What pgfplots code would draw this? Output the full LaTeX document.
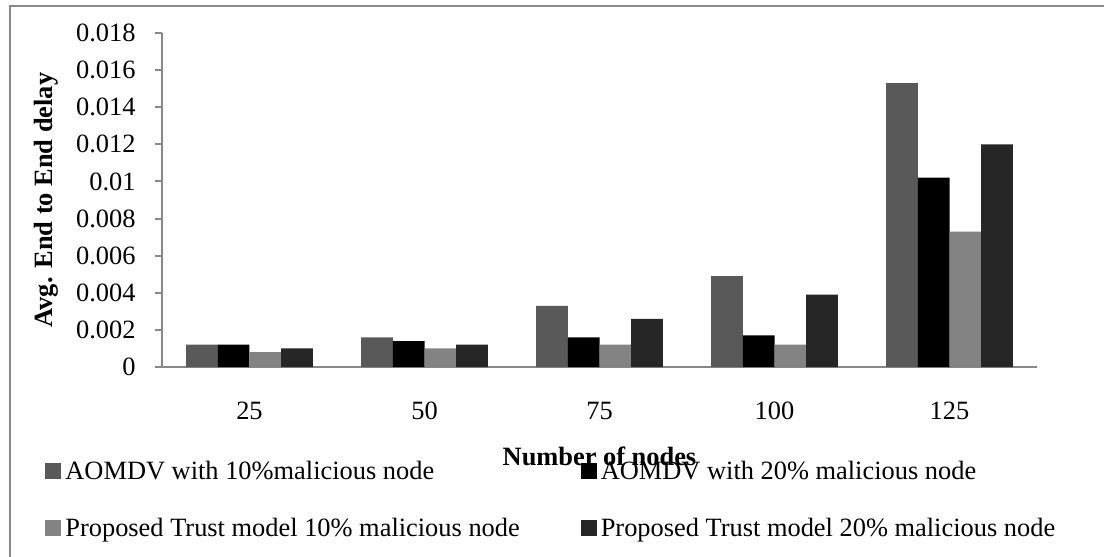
\documentclass[border=0pt]{standalone}
\usepackage{fontspec}
\setmainfont{Liberation Serif}
\usepackage{pgfplots}
\pgfplotsset{compat=1.18}
\definecolor{sA}{HTML}{595959}
\definecolor{sB}{HTML}{000000}
\definecolor{sC}{HTML}{838383}
\definecolor{sD}{HTML}{262626}
\definecolor{axgray}{HTML}{888888}
\newcommand{\cf}{\fontsize{13.2}{15.8}\selectfont}
\begin{document}
\begin{tikzpicture}[font=\cf]
\useasboundingbox (-81pt,-95pt) rectangle (471pt,183.5pt);
\clip (-81pt,-95pt) rectangle (471pt,183.5pt);
\draw[axgray, line width=1pt] (-76pt,-130pt) rectangle (520pt,180.5pt);
\begin{axis}[
  at={(0pt,0pt)}, anchor=south west,
  scale only axis, width=437.5pt, height=167pt,
  ybar=0pt, bar width=0.181,
  xmin=-0.5, xmax=4.5, ymin=0, ymax=0.018,
  axis x line*=bottom, axis y line*=left,
  axis line style={axgray, line width=1pt},
  xtick={0,1,2,3,4}, xticklabels={25,50,75,100,125},
  xtick style={draw=none},
  ytick={0,0.002,0.004,0.006,0.008,0.01,0.012,0.014,0.016,0.018},
  yticklabels={0,0.002,0.004,0.006,0.008,0.01,0.012,0.014,0.016,0.018},
  scaled y ticks=false,
  ytick style={axgray, line width=1pt},
  tick align=outside, major tick length=3.5pt,
  tick label style={font=\cf},
  xticklabel style={anchor=north, inner sep=0pt, yshift=-14pt},
  yticklabel style={anchor=east, inner sep=0pt, xshift=-9.5pt},
  xlabel={\textbf{Number of nodes}},
  xlabel style={at={(axis description cs:0.5,-0.268)}, anchor=center, font=\cf},
  ylabel={\textbf{Avg. End to End delay}},
  ylabel style={at={(axis description cs:-0.1325,0.5)}, anchor=center, font=\cf},
  legend columns=2,
  legend image code/.code={\fill[#1] (0pt,0.3pt) rectangle (8pt,8.3pt);},
  legend style={draw=none, fill=none, font=\cf, inner sep=0pt,
    at={(axis description cs:-0.1337,-0.281)}, anchor=north west,
    nodes={inner sep=0pt, anchor=base west},
    /tikz/every odd column/.append style={column sep=2pt},
    /tikz/every even column/.append style={column sep=30.5pt},
    row sep=18pt},
  legend cell align=left,
]
\addplot[fill=sA, draw=none] coordinates {(0,0.0012) (1,0.0016) (2,0.0033) (3,0.0049) (4,0.0153)};
\addplot[fill=sB, draw=none] coordinates {(0,0.0012) (1,0.0014) (2,0.0016) (3,0.0017) (4,0.0102)};
\addplot[fill=sC, draw=none] coordinates {(0,0.0008) (1,0.0010) (2,0.0012) (3,0.0012) (4,0.0073)};
\addplot[fill=sD, draw=none] coordinates {(0,0.0010) (1,0.0012) (2,0.0026) (3,0.0039) (4,0.0120)};
\legend{AOMDV with 10\%malicious node, AOMDV with 20\% malicious node, Proposed Trust model 10\% malicious node, Proposed Trust model 20\% malicious node}
\end{axis}
\end{tikzpicture}
\end{document}
